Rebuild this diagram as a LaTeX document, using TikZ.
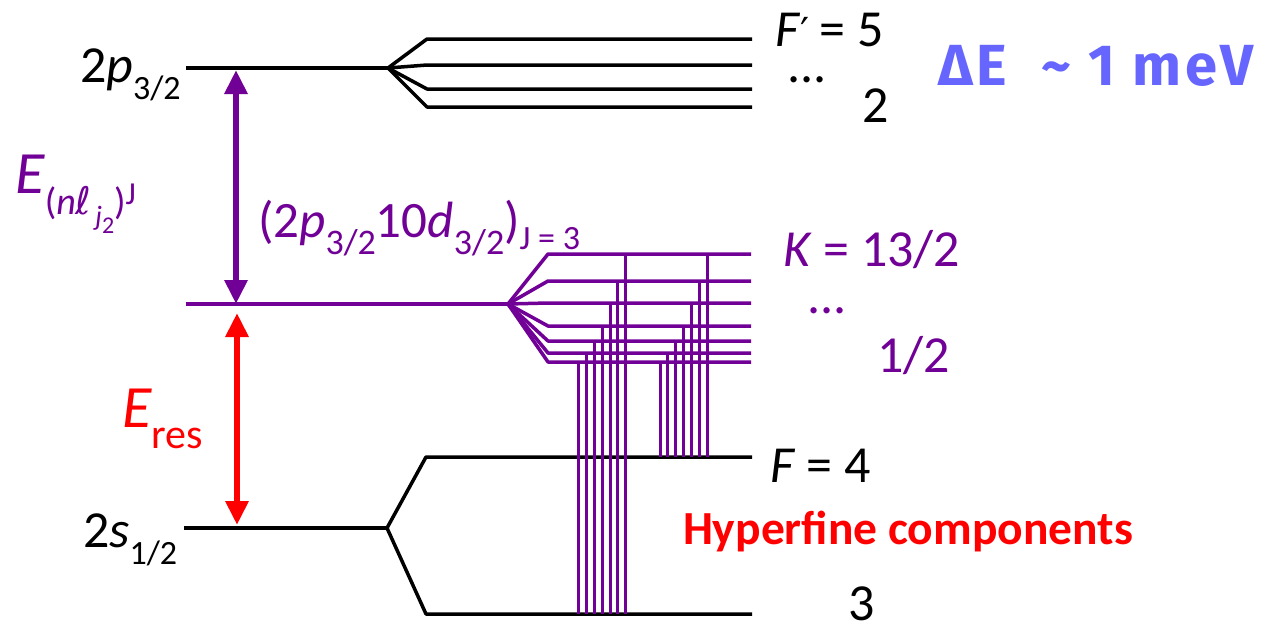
\documentclass[tikz,border=0pt]{standalone}
\usepackage{fontspec}
\setmainfont{Carlito}
\newfontfamily\symfont{DejaVu Sans}
\newfontfamily\dfont[LetterSpace=6]{Fira Sans}
\usetikzlibrary{arrows.meta}
\definecolor{lvpurple}{RGB}{112,0,150}
\definecolor{lvblue}{RGB}{102,102,255}
\definecolor{lvred}{RGB}{255,0,0}
\newcommand\fsz[1]{\fontsize{#1}{#1}\selectfont}
\newcommand\lvsub[2]{\raisebox{-0.34em}{\fsz{#1}#2}}
\begin{document}
\begin{tikzpicture}[x=1pt,y=-1pt,
  lev/.style={line width=3.5pt},
  blev/.style={lev, black},
  plev/.style={lev, lvpurple},
  vline/.style={line width=3pt, lvpurple},
  lbl/.style={anchor=base west, inner sep=0pt, outer sep=0pt},
  darrow/.style={line width=6pt, {Triangle[width=22pt,length=24pt]}-{Triangle[width=22pt,length=24pt]}}]
\useasboundingbox (0,0) rectangle (1268,629);
% ---- 2p3/2 level and F' components
\coordinate (p0) at (186,68);
\coordinate (pf) at (388,68);
\draw[blev] (p0) -- (pf);
\foreach \i/\y in {1/39,2/65,3/89,4/107}{
  \coordinate (pa\i) at (427,\y);
  \coordinate (pb\i) at (752,\y);
  \draw[blev, line join=round] (pf) -- (pa\i) -- (pb\i);
}
% ---- 2s1/2 level and F components
\coordinate (s0) at (184,528);
\coordinate (sf) at (387,528);
\draw[blev] (s0) -- (sf);
\coordinate (f4a) at (426,457); \coordinate (f4b) at (752,457);
\coordinate (f3a) at (426,614); \coordinate (f3b) at (752,614);
\draw[blev, line join=round] (sf) -- (f4a) -- (f4b);
\draw[blev, line join=round] (sf) -- (f3a) -- (f3b);
% ---- purple J level and K components
\coordinate (j0) at (186,304);
\coordinate (jf) at (508,304);
\draw[plev] (j0) -- (jf);
\foreach \i/\y/\xl/\xr in {1/254/625/707,2/281/617/699,3/303/610/691,4/326/602/683,5/341/594/675,6/353/586/667,7/362/578/660}{
  \coordinate (ka\i) at (548,\y);
  \coordinate (kb\i) at (751,\y);
  \draw[plev, line join=round] (jf) -- (ka\i) -- (kb\i);
  \coordinate (vl\i) at (\xl,\y);
  \coordinate (vlb\i) at (\xl,614);
  \coordinate (vr\i) at (\xr,\y);
  \coordinate (vrb\i) at (\xr,457);
  \draw[vline] (vl\i) -- (vlb\i);
  \draw[vline] (vr\i) -- (vrb\i);
}
% ---- arrows
\coordinate (a1) at (236,70); \coordinate (a2) at (236,304);
\draw[darrow, lvpurple] (a1) -- (a2);
\coordinate (r1) at (237,313); \coordinate (r2) at (237,525);
\draw[darrow, lvred] (r1) -- (r2);
% ---- labels
\node[lbl] (l2p) at (80,82) {\fsz{52}2\textit{p}\lvsub{34}{3/2}};
\node[lbl] (l2s) at (83,547) {\fsz{52}2\textit{s}\lvsub{34}{1/2}};
\node[lbl] (lF5) at (775,46) {\fsz{52}\textit{F}{\symfont\fsz{40}′}\hspace{0.2em}= 5};
\node[lbl] (ldots1) at (787,82) {\fsz{52}...};
\node[lbl] (lF2) at (862,122) {\fsz{52}2};
\node[lbl, lvblue] (lDE) at (938,85) {\dfont\bfseries\fsz{58}ΔE\hspace{0.6em}\textasciitilde\ 1 meV};
\node[lbl, lvpurple] (lEnl) at (15,193) {\fsz{60}\textit{E}\raisebox{-0.35em}{\fsz{38}(\textit{n}{\symfont ℓ}\hspace{0.1em}\raisebox{-0.3em}{\fsz{28}\textit{j}\raisebox{-0.3em}{\fsz{24}2}})\raisebox{0.25em}{\fsz{32}J}}};
\node[lbl, lvpurple] (lconf) at (258,237) {\fsz{51}(2\textit{p}\lvsub{36}{3/2}10\textit{d}\lvsub{36}{3/2})\raisebox{-0.25em}{\fsz{34}J = 3}};
\node[lbl, lvpurple] (lK) at (783,266) {\fsz{52}\textit{K} = 13/2};
\node[lbl, lvpurple] (ldots2) at (807,313) {\fsz{52}...};
\node[lbl, lvpurple] (lK12) at (877,372) {\fsz{52}1/2};
\node[lbl, lvred] (lEres) at (122,427) {\fsz{60}\textit{E}\raisebox{-0.35em}{\fsz{42}res}};
\node[lbl] (lF4) at (770,482) {\fsz{52}\textit{F} = 4};
\node[lbl, lvred] (lhf) at (683,544) {\fsz{47.5}\bfseries Hyperfine components};
\node[lbl] (lF3) at (848,620) {\fsz{52}3};
\end{tikzpicture}
\end{document}
